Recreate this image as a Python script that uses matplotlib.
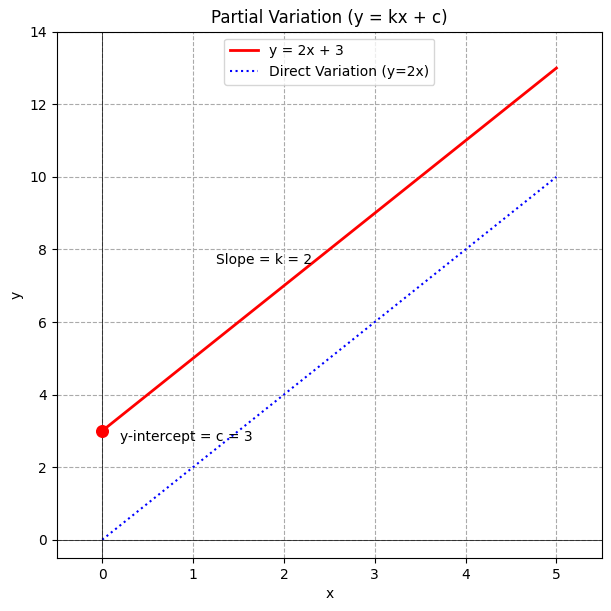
import numpy as np
import matplotlib.pyplot as plt

k = 2
c = 3
x_range = [0, 5]

x = np.array(x_range)
y_partial = k * x + c
y_direct = k * x

plt.figure(figsize=(6.11, 6.11), dpi=100)
plt.plot(x, y_partial, color='red', linewidth=2, label=f'y = {k}x + {c}')
plt.plot(x, y_direct, color='blue', linestyle=':', linewidth=1.5, label=f'Direct Variation (y={k}x)')
plt.scatter([0], [c], color='red', s=70, zorder=5)

plt.axhline(0, color='black', linewidth=0.5)
plt.axvline(0, color='black', linewidth=0.5)

# labels on the chart
plt.text(1.25, 7.72, f'Slope = k = {k}', va='center')
plt.text(0.2, 2.82, f'y-intercept = c = {c}', va='center')

plt.xlim(-0.5, 5.5)
plt.ylim(-0.5, 14)
plt.title('Partial Variation (y = kx + c)')
plt.xlabel('x')
plt.ylabel('y')
plt.grid(True, linestyle='--', color='#aaaaaa')
plt.legend(loc='upper center')

plt.subplots_adjust(left=0.093, right=0.985, top=0.948, bottom=0.087)
plt.savefig('out.png', dpi=100)
